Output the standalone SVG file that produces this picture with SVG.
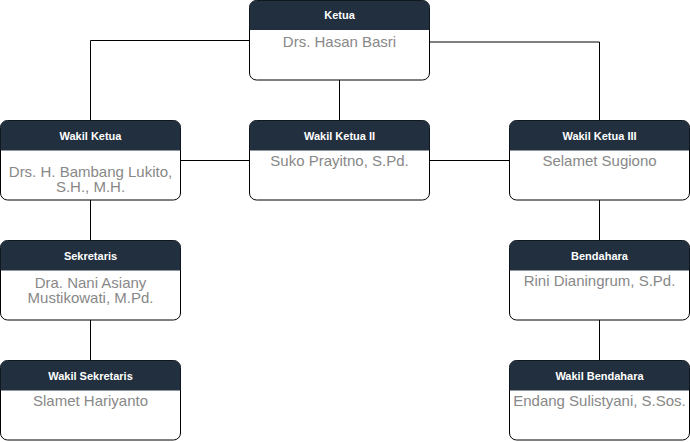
<svg xmlns="http://www.w3.org/2000/svg" width="690" height="442" viewBox="0 0 690 442">
<defs>
<style>
.box{fill:#ffffff;stroke:#000000;stroke-width:1}
.hdr{fill:#212f3e}
.ht{font-family:"Liberation Sans",Arial,sans-serif;font-size:11px;font-weight:bold;fill:#ffffff;text-anchor:middle}
.bt{font-family:"Liberation Sans",Arial,sans-serif;font-size:15px;fill:#888888;text-anchor:middle}
.ln{fill:none;stroke:#000000;stroke-width:1}
</style>
</defs>
<rect width="690" height="442" fill="#ffffff"/>
<g id="connectors">
<path class="ln" d="M90.5 120 V40.5 H249.5"/>
<path class="ln" d="M429.5 42 H599.5 V120"/>
<path class="ln" d="M339.5 80 V120"/>
<path class="ln" d="M180.5 160.5 H249.5"/>
<path class="ln" d="M429.5 160.5 H509.5"/>
<path class="ln" d="M90.5 200 V240"/>
<path class="ln" d="M90.5 320 V360"/>
<path class="ln" d="M599.5 200 V240"/>
<path class="ln" d="M599.5 320 V360"/>
</g>
<g id="ketua">
<rect class="box" x="249.5" y="0.5" width="180" height="79.5" rx="7"/>
<path class="hdr" d="M249.5 30 V7.5 A7 7 0 0 1 256.5 0.5 H422.5 A7 7 0 0 1 429.5 7.5 V30 Z"/>
<text class="ht" x="339.5" y="19">Ketua</text>
<text class="bt" x="339.5" y="46.5">Drs. Hasan Basri</text>
</g>
<g id="wakil-ketua">
<rect class="box" x="0.5" y="120.5" width="180" height="79.5" rx="7"/>
<path class="hdr" d="M0.5 150.5 V127.5 A7 7 0 0 1 7.5 120.5 H173.5 A7 7 0 0 1 180.5 127.5 V150.5 Z"/>
<text class="ht" x="90.5" y="139.5">Wakil Ketua</text>
<text class="bt" x="90.5" y="176.5">Drs. H. Bambang Lukito,</text>
<text class="bt" x="90.5" y="192">S.H., M.H.</text>
</g>
<g id="wakil-ketua-ii">
<rect class="box" x="249.5" y="120.5" width="180" height="79.5" rx="7"/>
<path class="hdr" d="M249.5 150.5 V127.5 A7 7 0 0 1 256.5 120.5 H422.5 A7 7 0 0 1 429.5 127.5 V150.5 Z"/>
<text class="ht" x="339.5" y="139.5">Wakil Ketua II</text>
<text class="bt" x="339.5" y="165.5">Suko Prayitno, S.Pd.</text>
</g>
<g id="wakil-ketua-iii">
<rect class="box" x="509.5" y="120.5" width="180" height="79.5" rx="7"/>
<path class="hdr" d="M509.5 150.5 V127.5 A7 7 0 0 1 516.5 120.5 H682.5 A7 7 0 0 1 689.5 127.5 V150.5 Z"/>
<text class="ht" x="599.5" y="139.5">Wakil Ketua III</text>
<text class="bt" x="599.5" y="166">Selamet Sugiono</text>
</g>
<g id="sekretaris">
<rect class="box" x="0.5" y="240.5" width="180" height="79.5" rx="7"/>
<path class="hdr" d="M0.5 270.5 V247.5 A7 7 0 0 1 7.5 240.5 H173.5 A7 7 0 0 1 180.5 247.5 V270.5 Z"/>
<text class="ht" x="90.5" y="259.5">Sekretaris</text>
<text class="bt" x="90.5" y="287.5">Dra. Nani Asiany</text>
<text class="bt" x="90.5" y="303">Mustikowati, M.Pd.</text>
</g>
<g id="bendahara">
<rect class="box" x="509.5" y="240.5" width="180" height="79.5" rx="7"/>
<path class="hdr" d="M509.5 270.5 V247.5 A7 7 0 0 1 516.5 240.5 H682.5 A7 7 0 0 1 689.5 247.5 V270.5 Z"/>
<text class="ht" x="599.5" y="259.5">Bendahara</text>
<text class="bt" x="599.5" y="286">Rini Dianingrum, S.Pd.</text>
</g>
<g id="wakil-sekretaris">
<rect class="box" x="0.5" y="360.5" width="180" height="79.5" rx="7"/>
<path class="hdr" d="M0.5 390.5 V367.5 A7 7 0 0 1 7.5 360.5 H173.5 A7 7 0 0 1 180.5 367.5 V390.5 Z"/>
<text class="ht" x="90.5" y="379.5">Wakil Sekretaris</text>
<text class="bt" x="90.5" y="406">Slamet Hariyanto</text>
</g>
<g id="wakil-bendahara">
<rect class="box" x="509.5" y="360.5" width="180" height="79.5" rx="7"/>
<path class="hdr" d="M509.5 390.5 V367.5 A7 7 0 0 1 516.5 360.5 H682.5 A7 7 0 0 1 689.5 367.5 V390.5 Z"/>
<text class="ht" x="599.5" y="379.5">Wakil Bendahara</text>
<text class="bt" x="599.5" y="406">Endang Sulistyani, S.Sos.</text>
</g>
</svg>
